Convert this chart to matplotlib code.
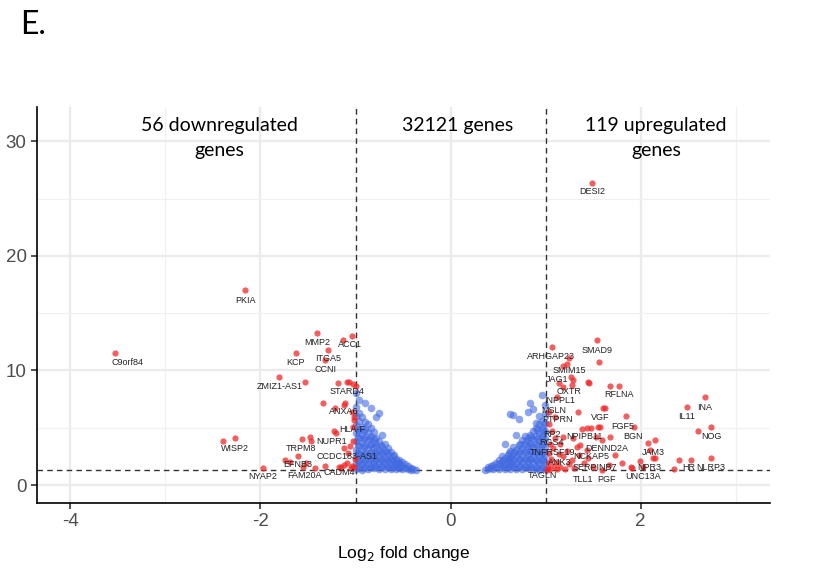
import matplotlib
matplotlib.use('Agg')
import matplotlib.pyplot as plt
from matplotlib.ticker import MultipleLocator

plt.rcParams['font.family'] = ['Liberation Sans', 'DejaVu Sans']
plt.rcParams['axes.unicode_minus'] = False

# non-significant genes, grouped by log2FC column: (x, [ -log10 p ...])
blue_down = [
    (-0.99, [1.4, 1.9, 2.5, 3.1, 3.8, 4.5, 5.2, 6.0, 6.8, 8.0]),
    (-0.97, [1.7, 2.2, 2.8, 3.5, 4.2, 4.9]),
    (-0.96, [1.5, 2.1, 2.7, 3.4, 4.1, 4.8, 5.6, 6.3, 7.4]),
    (-0.93, [1.35, 1.8, 2.4, 3.0, 3.7, 4.4, 5.1, 5.9]),
    (-0.91, [1.5, 2.0, 2.6, 3.3, 4.0, 4.7]),
    (-0.90, [1.6, 2.2, 2.8, 3.5, 4.2, 4.9, 5.5, 7.2]),
    (-0.87, [1.4, 1.9, 2.5, 3.2, 3.9, 4.6, 5.3]),
    (-0.85, [1.6, 2.2, 2.8, 3.5, 4.1]),
    (-0.84, [1.7, 2.3, 2.9, 3.6, 4.3, 5.0, 6.7]),
    (-0.81, [1.45, 2.0, 2.6, 3.3, 4.0, 4.6]),
    (-0.79, [1.7, 2.3, 2.9, 3.7]),
    (-0.78, [1.6, 2.2, 2.8, 3.4, 4.1, 5.9]),
    (-0.75, [1.4, 1.9, 2.5, 3.1, 3.8, 6.3]),
    (-0.73, [1.7, 2.3, 2.9, 3.5]),
    (-0.72, [1.6, 2.1, 2.7, 3.3, 4.4]),
    (-0.69, [1.4, 1.9, 2.4, 3.0, 3.6]),
    (-0.67, [1.7, 2.3, 2.9]),
    (-0.66, [1.6, 2.1, 2.7, 3.2]),
    (-0.63, [1.4, 1.8, 2.3, 2.9]),
    (-0.61, [1.6, 2.2, 2.5]),
    (-0.60, [1.55, 2.0, 2.6]),
    (-0.57, [1.4, 1.8, 2.3]),
    (-0.55, [1.6, 2.0]),
    (-0.54, [1.5, 1.95, 2.2]),
    (-0.51, [1.4, 1.7, 2.0]),
    (-0.48, [1.5, 1.8]),
    (-0.45, [1.4, 1.65]),
    (-0.42, [1.35, 1.5]),
    (-0.39, [1.4]),
    (-0.36, [1.35]),
]
blue_up = [
    (0.99, [1.4, 2.0, 2.6, 3.3, 4.0, 4.7, 5.4, 6.2, 7.0]),
    (0.97, [1.7, 2.3, 2.9, 3.6, 4.4, 5.1]),
    (0.96, [1.5, 2.2, 2.8, 3.5, 4.2, 4.9, 5.6, 7.9]),
    (0.93, [1.35, 1.9, 2.5, 3.1, 3.8, 4.5, 5.3, 6.0]),
    (0.91, [1.5, 2.1, 2.7, 3.4, 4.0, 4.8]),
    (0.90, [1.6, 2.2, 2.9, 3.6, 4.3, 5.0, 5.4]),
    (0.87, [1.4, 2.0, 2.6, 3.3, 4.0, 4.7, 6.6]),
    (0.85, [1.6, 2.3, 2.9, 3.5, 4.2]),
    (0.84, [1.7, 2.3, 3.0, 3.7, 4.4, 7.2]),
    (0.81, [1.45, 2.1, 2.7, 3.4, 4.1, 6.4]),
    (0.79, [1.7, 2.4, 3.1, 3.8]),
    (0.78, [1.6, 2.2, 2.9, 3.6, 4.3]),
    (0.75, [1.4, 2.0, 2.6, 3.2, 3.9]),
    (0.73, [1.7, 2.3, 3.0, 3.6]),
    (0.72, [1.6, 2.2, 2.8, 3.5, 5.8]),
    (0.69, [1.4, 1.9, 2.5, 3.1, 4.4]),
    (0.67, [1.7, 2.3, 2.9]),
    (0.66, [1.55, 2.1, 2.7, 3.3, 6.1]),
    (0.63, [1.4, 1.9, 2.4, 3.0, 6.2]),
    (0.61, [1.7, 2.3, 2.8]),
    (0.60, [1.6, 2.1, 2.6]),
    (0.57, [1.4, 1.85, 2.4, 3.6]),
    (0.55, [1.7, 2.2]),
    (0.54, [1.55, 2.0, 2.5]),
    (0.51, [1.4, 1.8, 2.2]),
    (0.48, [1.55, 1.95]),
    (0.45, [1.4, 1.75]),
    (0.42, [1.5, 1.7]),
    (0.39, [1.4, 1.55]),
    (0.36, [1.35]),
]

# significant genes (log2FC, -log10 p)
red_down = [
    (-3.53, 11.54), (-2.16, 17.05), (-2.39, 3.85), (-2.27, 4.1), (-1.97, 1.5),
    (-1.80, 9.44), (-1.53, 9.0), (-1.63, 11.5), (-1.40, 13.3), (-1.13, 12.7),
    (-1.04, 13.0), (-1.29, 11.8), (-1.32, 10.9), (-1.18, 8.9), (-1.09, 9.0),
    (-1.07, 9.0), (-1.03, 8.8), (-1.00, 8.65), (-1.34, 7.2), (-1.11, 7.2),
    (-1.04, 6.4), (-1.02, 5.9), (-1.23, 4.7), (-1.02, 5.7), (-1.20, 4.5),
    (-1.12, 3.2), (-1.06, 3.4), (-1.56, 4.0), (-1.48, 4.2), (-1.47, 3.85),
    (-1.60, 2.5), (-1.74, 2.2), (-1.69, 2.0), (-1.55, 1.6), (-1.52, 1.9),
    (-1.43, 1.5), (-1.32, 1.66), (-1.15, 1.57), (-1.02, 1.57), (-1.12, 1.75),
    (-1.09, 1.9), (-1.04, 1.66), (-1.22, 6.7), (-1.12, 7.0), (-1.03, 5.1),
    (-1.03, 3.8), (-1.08, 2.8), (-1.17, 1.6), (-1.01, 2.3), (-1.05, 1.45),
]
red_up = [
    (1.49, 26.4), (1.07, 12.04), (1.54, 12.7), (1.56, 10.75), (1.25, 11.07),
    (1.22, 10.6), (1.18, 10.4), (1.27, 9.47), (1.29, 9.18), (1.14, 8.9),
    (1.28, 8.74), (1.45, 9.03), (1.46, 8.89), (1.18, 8.54), (1.68, 8.68),
    (1.77, 8.68), (1.12, 7.72), (1.34, 6.41), (1.60, 6.7), (1.62, 6.7),
    (1.84, 6.03), (1.93, 5.1), (1.68, 4.17), (1.38, 4.9), (1.43, 4.95),
    (1.48, 4.95), (1.55, 5.1), (1.57, 5.1), (1.53, 4.2), (1.29, 4.08),
    (1.59, 3.93), (1.18, 4.2), (1.43, 3.06), (1.36, 3.5), (1.73, 2.62),
    (1.80, 1.95), (1.90, 1.55), (2.08, 3.64), (2.15, 3.93), (2.10, 3.06),
    (2.13, 2.33), (2.15, 2.33), (2.02, 1.6), (2.40, 2.18), (2.53, 2.18),
    (2.35, 1.37), (1.50, 1.6), (1.59, 1.31), (1.67, 1.75), (2.49, 6.79),
    (2.68, 7.66), (2.60, 4.72), (2.74, 5.04), (2.74, 2.33), (1.99, 2.12),
    (1.91, 1.46), (1.02, 1.5), (1.04, 1.9), (1.06, 2.3), (1.03, 2.8),
    (1.08, 3.2), (1.05, 3.6), (1.10, 4.1), (1.12, 2.0), (1.15, 1.6),
    (1.18, 2.5), (1.20, 1.4), (1.22, 3.0), (1.25, 1.8), (1.28, 2.2),
    (1.30, 1.5), (1.07, 4.7), (1.04, 5.3), (1.10, 5.9), (1.03, 6.4),
    (1.15, 3.6), (1.12, 1.4), (1.35, 2.6), (1.40, 1.9), (1.33, 3.3),
    (1.45, 2.4), (1.01, 1.35), (1.05, 1.4), (1.09, 1.7), (1.14, 2.7),
]

# gene labels and where the repelled text sits
gene_labels = {
    'C9orf84': (-3.40, 10.66), 'PKIA': (-2.16, 16.08), 'WISP2': (-2.27, 3.15),
    'NYAP2': (-1.98, 0.70), 'MMP2': (-1.40, 12.41), 'ACC1': (-1.06, 12.24),
    'ITGA5': (-1.29, 11.01), 'CCNI': (-1.32, 10.05), 'KCP': (-1.63, 10.66),
    'ZMIZ1-AS1': (-1.80, 8.57), 'STARD4': (-1.09, 8.13), 'ANXA6': (-1.12, 6.38),
    'HLA-F': (-1.03, 4.81), 'NUPR1': (-1.25, 3.76), 'TRPM8': (-1.57, 3.15),
    'CCDC183-AS1': (-1.09, 2.45), 'EFNB3': (-1.61, 1.75), 'FAM20A': (-1.54, 0.79),
    'CADM4': (-1.17, 1.05),
    'DESI2': (1.49, 25.6), 'ARHGAP23': (1.06, 11.19), 'SMAD9': (1.54, 11.7),
    'SMIM15': (1.25, 9.97), 'JAG1': (1.12, 9.18), 'OXTR': (1.25, 8.2),
    'RFLNA': (1.77, 7.87), 'INPPL1': (1.15, 7.34), 'MSLN': (1.08, 6.47),
    'PTPRN': (1.12, 5.68), 'VGF': (1.57, 5.86), 'FGF5': (1.81, 5.07),
    'BGN': (1.92, 4.2), 'NPIPB11': (1.41, 4.2), 'RP2': (1.07, 4.37),
    'RGS4': (1.06, 3.67), 'DENND2A': (1.64, 3.23), 'JAM3': (2.13, 2.88),
    'TNFRSF19': (1.07, 2.88), 'NCKAP5': (1.48, 2.45), 'ANK3': (1.15, 2.0),
    'SERPINB7': (1.52, 1.49), 'NPR3': (2.09, 1.57), 'HR': (2.50, 1.49),
    'NLRP3': (2.74, 1.49), 'TAGLN': (0.97, 0.87), 'TLL1': (1.39, 0.44),
    'PGF': (1.64, 0.44), 'UNC13A': (2.02, 0.70), 'IL11': (2.48, 5.94),
    'INA': (2.67, 6.73), 'NOG': (2.74, 4.2),
}

fc_cut = 1.0
p_cut = 1.3
header = ['56 downregulated\ngenes', '32121 genes', '119 upregulated\ngenes']
header_x = [-2.43, 0.07, 2.16]

fig = plt.figure(figsize=(8.17, 5.71), dpi=100)
ax = fig.add_axes([0.0453, 0.1191, 0.8972, 0.6935])

bx, by = [], []
for x, ys in blue_down + blue_up:
    for y in ys:
        bx.append(x)
        by.append(y)
ax.scatter(bx, by, s=30, color='#4169E1', alpha=0.6, linewidths=0, zorder=3)

rx = [p[0] for p in red_down + red_up]
ry = [p[1] for p in red_down + red_up]
ax.scatter(rx, ry, s=20, color='#F02828', alpha=0.75, linewidths=0, zorder=4)

for g, (lx, ly) in gene_labels.items():
    ax.text(lx, ly, g, fontsize=6.5, color='#222222', ha='center', va='center', zorder=5)

ax.axhline(p_cut, color='#333333', lw=1, ls=(0, (4, 3)), zorder=2)
ax.axvline(-fc_cut, color='#333333', lw=1, ls=(0, (4, 3)), zorder=2)
ax.axvline(fc_cut, color='#333333', lw=1, ls=(0, (4, 3)), zorder=2)

for t, hx in zip(header, header_x):
    ax.text(hx, 32.1, t, fontsize=14, ha='center', va='top',
            family=['Lato', 'DejaVu Sans'], linespacing=1.55, zorder=6)

ax.set_xlim(-4.35, 3.36)
ax.set_ylim(-1.57, 33.0)
ax.xaxis.set_major_locator(MultipleLocator(2))
ax.xaxis.set_minor_locator(MultipleLocator(1))
ax.yaxis.set_major_locator(MultipleLocator(10))
ax.yaxis.set_minor_locator(MultipleLocator(5))
ax.grid(which='major', color='#ebebeb', lw=1.6, zorder=0)
ax.grid(which='minor', color='#f0f0f0', lw=0.9, zorder=0)
ax.set_axisbelow(True)
ax.tick_params(which='minor', length=0)
ax.tick_params(which='major', length=4, width=1.2, color='#333333',
               labelsize=13.5, labelcolor='#4d4d4d')
for s in ['top', 'right']:
    ax.spines[s].set_visible(False)
for s in ['left', 'bottom']:
    ax.spines[s].set_linewidth(1.2)
    ax.spines[s].set_color('black')

ax.set_xlabel('Log$_2$ fold change', fontsize=12.5, labelpad=10)

fig.text(0.025, 0.94, 'E.', fontsize=23, family=['Lato', 'DejaVu Sans'])

fig.savefig('out.png', dpi=100)
